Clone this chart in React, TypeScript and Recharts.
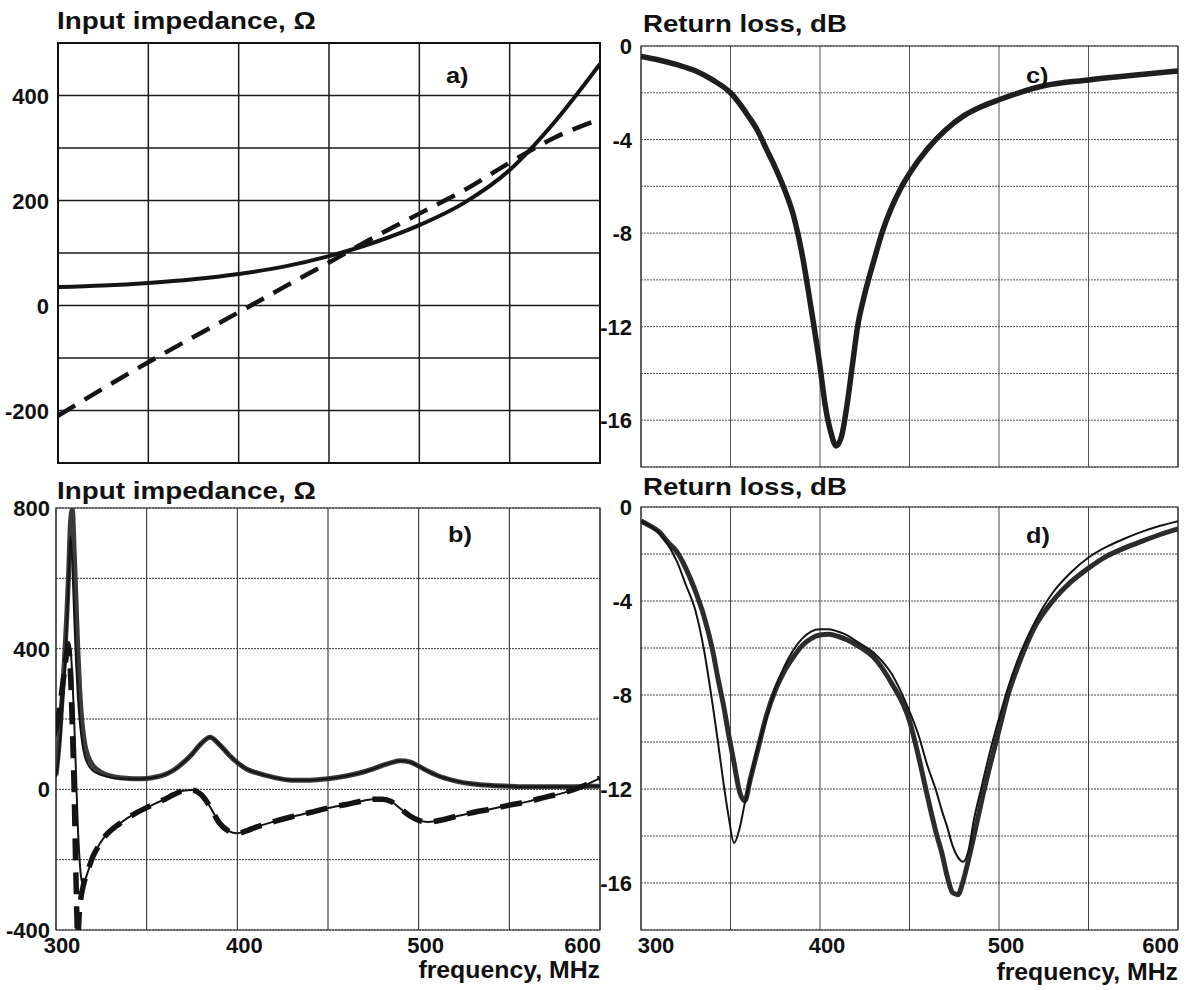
import React from 'react';
import { LineChart, Line, XAxis, YAxis, CartesianGrid, ReferenceArea } from 'recharts';

const FONT = '"Liberation Sans", Arial, Helvetica, sans-serif';

// ---------- Panel a: input impedance (Ω) ----------
const freqA = [300, 325, 350, 375, 400, 425, 450, 475, 500, 525, 550, 575, 600];
const resA = [35, 38, 43, 50, 60, 74, 94, 120, 153, 196, 258, 350, 460];
const reaA = [-210, -158, -108, -60, -13, 35, 82, 130, 175, 220, 272, 320, 355];
const yTicksA = [-300, -200, -100, 0, 100, 200, 300, 400, 500];
const yLabelsA = [-200, 0, 200, 400];

// ---------- Panel b: input impedance (Ω), two resonators ----------
const freqB = [300, 301, 302, 303, 304, 305, 306, 307, 308, 309, 310, 311, 312, 313, 314, 315, 316, 318, 320, 323, 326, 330, 335, 340, 345, 350, 355, 360, 365, 370, 375, 380, 385, 390, 395, 400, 405, 410, 420, 430, 440, 450, 460, 470, 475, 480, 485, 490, 495, 500, 505, 510, 520, 530, 540, 550, 560, 570, 580, 590, 600];
const resB1 = [40, 90, 150, 230, 310, 400, 500, 620, 760, 795, 680, 540, 400, 290, 210, 160, 125, 90, 70, 55, 45, 38, 33, 31, 30, 31, 35, 42, 55, 75, 100, 130, 148, 128, 100, 76, 58, 48, 34, 26, 26, 30, 38, 50, 58, 68, 76, 81, 78, 66, 52, 40, 24, 15, 11, 9, 7, 7, 7, 8, 9];
const resB2 = [35, 70, 120, 190, 270, 360, 470, 600, 720, 640, 500, 370, 270, 200, 150, 115, 92, 68, 55, 45, 39, 34, 31, 30, 30, 31, 35, 42, 55, 75, 100, 130, 148, 128, 100, 76, 58, 48, 34, 26, 26, 30, 38, 50, 58, 68, 76, 81, 78, 66, 52, 40, 24, 15, 11, 9, 7, 7, 7, 8, 9];
const reaB1 = [170, 200, 230, 270, 310, 350, 390, 400, 330, 180, 0, -250, -420, -340, -300, -275, -255, -225, -195, -165, -140, -118, -98, -80, -65, -52, -40, -28, -15, -4, -2, -15, -50, -95, -118, -125, -118, -108, -92, -78, -66, -53, -43, -32, -28, -28, -35, -55, -75, -88, -93, -90, -78, -66, -56, -45, -35, -22, -10, 8, 32];
const reaB2 = [150, 180, 215, 255, 300, 345, 390, 420, 400, 320, 200, 50, -100, -200, -255, -270, -258, -228, -200, -165, -140, -118, -98, -80, -65, -52, -40, -28, -15, -4, -2, -15, -50, -95, -118, -125, -118, -108, -92, -78, -66, -53, -43, -32, -28, -28, -35, -55, -75, -88, -93, -90, -78, -66, -56, -45, -35, -22, -10, 8, 32];
const yTicksB = [-400, -200, 0, 200, 400, 600, 800];
const yLabelsB = [-400, 0, 400, 800];

// ---------- Panel c: return loss (dB) ----------
const freqC = [300, 310, 320, 330, 340, 350, 360, 365, 370, 375, 380, 385, 390, 395, 400, 403, 406, 409, 412, 415, 418, 421, 425, 430, 435, 440, 445, 450, 460, 470, 480, 490, 500, 525, 550, 575, 600];
const rlC = [-0.45, -0.6, -0.8, -1.05, -1.45, -2.0, -3.0, -3.6, -4.4, -5.2, -6.1, -7.2, -8.9, -11.2, -13.7, -15.4, -16.5, -17.1, -16.7, -15.4, -13.7, -12.0, -10.6, -9.2, -7.9, -6.9, -6.1, -5.45, -4.4, -3.6, -3.0, -2.6, -2.3, -1.7, -1.45, -1.25, -1.07];

// ---------- Panel d: return loss (dB), two curves ----------
const freqD = [300, 305, 310, 315, 320, 325, 330, 335, 340, 343, 346, 349, 352, 355, 358, 361, 365, 370, 375, 380, 385, 390, 395, 400, 405, 410, 415, 420, 430, 440, 450, 455, 460, 465, 468, 471, 474, 477, 480, 483, 486, 490, 495, 500, 505, 510, 520, 530, 540, 550, 560, 570, 580, 590, 600];
const rlD1 = [-0.6, -0.8, -1.05, -1.5, -1.9, -2.6, -3.5, -4.6, -6.1, -7.3, -8.4, -9.7, -10.9, -12.1, -12.5, -11.6, -10.4, -8.9, -7.8, -7.0, -6.4, -5.9, -5.6, -5.45, -5.42, -5.5, -5.65, -5.85, -6.4, -7.5, -9.1, -10.6, -12.3, -13.9, -14.7, -15.7, -16.4, -16.5, -15.9, -15.0, -14.0, -12.6, -11.0, -9.5, -8.0, -6.9, -5.1, -4.0, -3.2, -2.6, -2.1, -1.75, -1.45, -1.17, -0.93];
const rlD2 = [-0.6, -0.8, -1.1, -1.6, -2.3, -3.3, -4.3, -6.0, -8.4, -10.0, -11.7, -13.2, -14.3, -13.7, -12.6, -11.6, -10.3, -9.0, -7.7, -6.8, -6.1, -5.6, -5.3, -5.2, -5.2, -5.3, -5.45, -5.7, -6.2, -7.1, -8.7, -9.7, -11.0, -12.1, -12.9, -13.6, -14.4, -14.9, -15.1, -14.6, -13.3, -12.0, -10.4, -9.0, -7.7, -6.6, -4.9, -3.65, -2.8, -2.15, -1.7, -1.35, -1.05, -0.8, -0.6];
const yTicksRL = [-18, -16, -14, -12, -10, -8, -6, -4, -2, 0];
const yLabelsRL = [-16, -12, -8, -4, 0];

// ---------- shared x axis ----------
const xTicks = [300, 350, 400, 450, 500, 550, 600];
const xLabels = [300, 400, 500, 600];

const dataA = freqA.map((f, i) => ({ f, r: resA[i], x: reaA[i] }));
const dataB = freqB.map((f, i) => ({ f, r1: resB1[i], r2: resB2[i], x1: reaB1[i], x2: reaB2[i] }));
const dataC = freqC.map((f, i) => ({ f, rl: rlC[i] }));
const dataD = freqD.map((f, i) => ({ f, a: rlD1[i], b: rlD2[i] }));

const makeYTick = (labels: number[]) => (props: any) => {
  const { x, y, payload } = props;
  if (!labels.includes(payload.value)) return <g />;
  return (
    <text x={x} y={y} dy={8} textAnchor="end" fontFamily={FONT} fontWeight={700} fontSize={22} fill="#111">
      {payload.value}
    </text>
  );
};

const emptyTick = () => <g />;

const makeXTick = (firstShift: number) => (props: any) => {
  const { x, y, payload } = props;
  if (!xLabels.includes(payload.value)) return <g />;
  const v = payload.value;
  let tx = x + 7;
  let anchor: 'middle' | 'end' = 'middle';
  if (v === 300) tx = x + firstShift;
  if (v === 600) {
    tx = x + 1;
    anchor = 'end';
  }
  return (
    <text x={tx} y={y + 23} textAnchor={anchor} fontFamily={FONT} fontWeight={700} fontSize={22} fill="#111">
      {v}
    </text>
  );
};

const ink = '#141414';

export default function App() {
  return (
    <div style={{ position: 'absolute', left: 0, top: 0, width: 1199, height: 990, background: '#fff', overflow: 'hidden' }}>
      {/* Panel a */}
      <div style={{ position: 'absolute', left: 0, top: 0 }}>
        <LineChart width={620} height={480} data={dataA} margin={{ top: 43, right: 20, bottom: 16, left: 0 }}>
          <CartesianGrid stroke="#1a1a1a" strokeWidth={1.5} />
          <XAxis dataKey="f" type="number" domain={[300, 600]} ticks={xTicks} height={1} tick={emptyTick} tickSize={0} axisLine={false} tickLine={false} allowDataOverflow interval={0} />
          <YAxis type="number" domain={[-300, 500]} ticks={yTicksA} width={58} tick={makeYTick(yLabelsA)} tickSize={0} tickMargin={9} axisLine={false} tickLine={false} allowDataOverflow interval={0} />
          <Line type="monotone" dataKey="r" stroke={ink} strokeWidth={4} dot={false} isAnimationActive={false} />
          <Line type="monotone" dataKey="x" stroke={ink} strokeWidth={4.5} strokeDasharray="20 11" dot={false} isAnimationActive={false} />
          <ReferenceArea x1={300} x2={600} y1={-300} y2={500} fill="none" stroke="#111" strokeWidth={2} ifOverflow="visible" />
        </LineChart>
      </div>

      {/* Panel c */}
      <div style={{ position: 'absolute', left: 590, top: 0 }}>
        <LineChart width={609} height={480} data={dataC} margin={{ top: 46, right: 21, bottom: 12, left: 0 }}>
          <CartesianGrid horizontal={false} stroke="#555" strokeWidth={1} />
          <CartesianGrid vertical={false} stroke="#555" strokeWidth={1} strokeDasharray="2 1" />
          <XAxis dataKey="f" type="number" domain={[300, 600]} ticks={xTicks} height={1} tick={emptyTick} tickSize={0} axisLine={false} tickLine={false} allowDataOverflow interval={0} />
          <YAxis type="number" domain={[-18, 0]} ticks={yTicksRL} width={51} tick={makeYTick(yLabelsRL)} tickSize={0} tickMargin={9} axisLine={false} tickLine={false} allowDataOverflow interval={0} />
          <Line type="monotone" dataKey="rl" stroke="#1e1e1e" strokeWidth={5.5} dot={false} isAnimationActive={false} />
          <ReferenceArea x1={300} x2={600} y1={-18} y2={0} fill="none" stroke="#333" strokeWidth={1.2} ifOverflow="visible" />
        </LineChart>
      </div>

      {/* Panel b */}
      <div style={{ position: 'absolute', left: 0, top: 470 }}>
        <LineChart width={620} height={520} data={dataB} margin={{ top: 38, right: 20, bottom: 0, left: 0 }}>
          <CartesianGrid horizontal={false} stroke="#222" strokeWidth={1} />
          <CartesianGrid vertical={false} stroke="#333" strokeWidth={1} strokeDasharray="2 1" />
          <XAxis dataKey="f" type="number" domain={[300, 600]} ticks={xTicks} height={60} tick={makeXTick(6)} tickSize={0} tickMargin={0} axisLine={false} tickLine={false} allowDataOverflow interval={0} />
          <YAxis type="number" domain={[-400, 800]} ticks={yTicksB} width={56} tick={makeYTick(yLabelsB)} tickSize={0} tickMargin={6} axisLine={false} tickLine={false} allowDataOverflow interval={0} />
          <Line type="monotone" dataKey="r1" stroke="#3a3a3a" strokeWidth={5} dot={false} isAnimationActive={false} />
          <Line type="monotone" dataKey="r2" stroke={ink} strokeWidth={2} dot={false} isAnimationActive={false} />
          <Line type="monotone" dataKey="x1" stroke={ink} strokeWidth={5.5} strokeDasharray="22 12" dot={false} isAnimationActive={false} />
          <Line type="monotone" dataKey="x2" stroke={ink} strokeWidth={2} dot={false} isAnimationActive={false} />
          <ReferenceArea x1={300} x2={600} y1={-400} y2={800} fill="none" stroke="#333" strokeWidth={1.2} ifOverflow="visible" />
        </LineChart>
      </div>

      {/* Panel d */}
      <div style={{ position: 'absolute', left: 590, top: 470 }}>
        <LineChart width={609} height={520} data={dataD} margin={{ top: 37, right: 21, bottom: 0, left: 0 }}>
          <CartesianGrid horizontal={false} stroke="#444" strokeWidth={1} />
          <CartesianGrid vertical={false} stroke="#444" strokeWidth={1} strokeDasharray="2 1" />
          <XAxis dataKey="f" type="number" domain={[300, 600]} ticks={xTicks} height={60} tick={makeXTick(15)} tickSize={0} tickMargin={0} axisLine={false} tickLine={false} allowDataOverflow interval={0} />
          <YAxis type="number" domain={[-18, 0]} ticks={yTicksRL} width={51} tick={makeYTick(yLabelsRL)} tickSize={0} tickMargin={9} axisLine={false} tickLine={false} allowDataOverflow interval={0} />
          <Line type="monotone" dataKey="a" stroke="#2c2c2c" strokeWidth={5} dot={false} isAnimationActive={false} />
          <Line type="monotone" dataKey="b" stroke={ink} strokeWidth={2} dot={false} isAnimationActive={false} />
          <ReferenceArea x1={300} x2={600} y1={-18} y2={0} fill="none" stroke="#333" strokeWidth={1.2} ifOverflow="visible" />
        </LineChart>
      </div>

      {/* Titles and annotations */}
      <svg width={1199} height={990} style={{ position: 'absolute', left: 0, top: 0, pointerEvents: 'none' }}>
        <g fontFamily={FONT} fontWeight={700} fill="#111">
          <text transform="translate(57,29) scale(1.21,1)" fontSize={23}>Input impedance, Ω</text>
          <text transform="translate(643,31.5) scale(1.2,1)" fontSize={23}>Return loss, dB</text>
          <text transform="translate(57,499) scale(1.21,1)" fontSize={23}>Input impedance, Ω</text>
          <text transform="translate(643,494.5) scale(1.2,1)" fontSize={23}>Return loss, dB</text>
          <text transform="translate(446,83) scale(1.15,1)" fontSize={22}>a)</text>
          <text transform="translate(1026,83) scale(1.15,1)" fontSize={22}>c)</text>
          <text transform="translate(448,542) scale(1.15,1)" fontSize={22}>b)</text>
          <text transform="translate(1026,543) scale(1.15,1)" fontSize={22}>d)</text>
          <text transform="translate(600,978) scale(1.08,1)" fontSize={23} textAnchor="end">frequency, MHz</text>
          <text transform="translate(1178,980) scale(1.08,1)" fontSize={23} textAnchor="end">frequency, MHz</text>
        </g>
      </svg>
    </div>
  );
}
